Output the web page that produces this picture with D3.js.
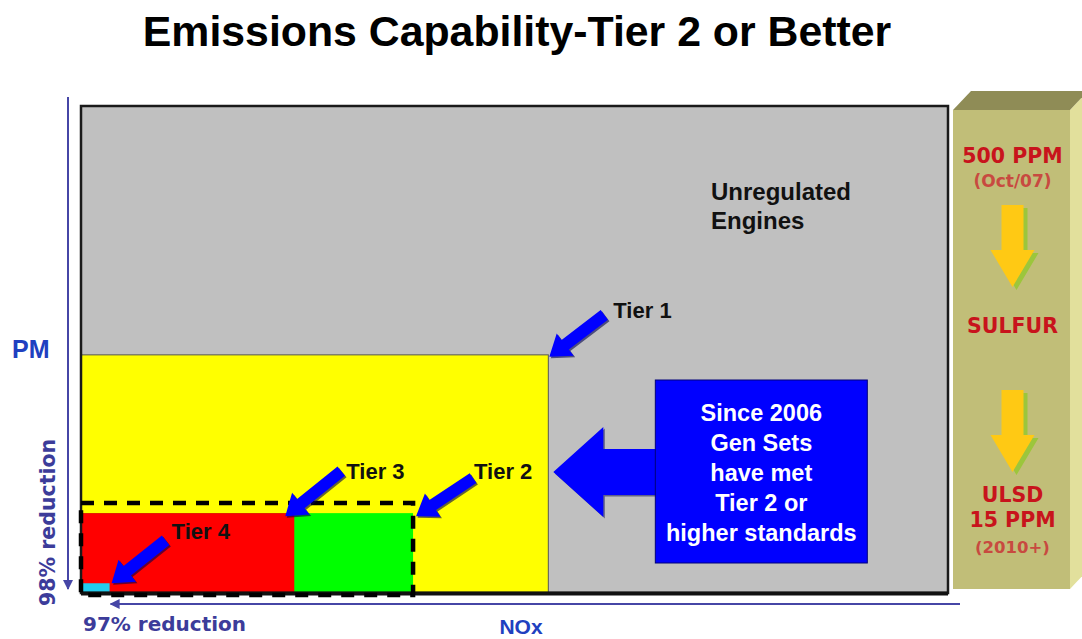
<!DOCTYPE html>
<html>
<head>
<meta charset="utf-8">
<script src="https://cdn.jsdelivr.net/npm/d3@7/dist/d3.min.js"></script>
<style>
  html, body { margin: 0; padding: 0; background: #ffffff; }
  svg { display: block; }
</style>
</head>
<body>
<svg id="chart" width="1082" height="639"></svg>
<script>
// ---------------- DATA ----------------
const chartTitle = "Emissions Capability-Tier 2 or Better";
// Emission limits as % of an unregulated engine (NOx on x, PM on y)
const tierNames = ["Unregulated Engines", "Tier 1", "Tier 2", "Tier 3", "Tier 4"];
const tierNox   = [100, 53.9, 38.3, 24.6, 3.3];
const tierPm    = [100, 48.9, 16.4, 16.4, 2.0];
// dashed envelope for "Tier 2 or better"
const envelopeNox = 38.3;
const envelopePm  = 18.5;
const axisLabels = { x: "NOx", y: "PM", xReduction: "97% reduction", yReduction: "98% reduction" };
const calloutLines = ["Since 2006", "Gen Sets", "have met", "Tier 2 or", "higher standards"];
const fuelTop    = ["500 PPM", "(Oct/07)"];
const fuelMiddle = ["SULFUR"];
const fuelBottom = ["ULSD", "15 PPM", "(2010+)"];

// ---------------- STYLE ----------------
const tierColors = {
  "Unregulated Engines": "#c0c0c0",
  "Tier 1": "#ffff00",
  "Tier 2": "#00ff00",
  "Tier 3": "#ff0000",
  "Tier 4": "#22ccee"
};
const arrowBlue = "#0000ff";
const axisBlue = "#4646a6";
const labelBlue = "#2040c0";
const fuelRed = "#c8141c";
const fuelRedLight = "#c84a40";

const svg = d3.select("#chart");

// scales
const x = d3.scaleLinear().domain([0, 100]).range([81, 948]);
const y = d3.scaleLinear().domain([0, 100]).range([593, 106]);

// ---------- title ----------
svg.append("text")
  .attr("x", 517).attr("y", 46)
  .attr("text-anchor", "middle")
  .attr("font-family", "Liberation Sans, Arial, sans-serif")
  .attr("font-weight", "bold")
  .attr("font-size", 42.8)
  .attr("fill", "#000")
  .text(chartTitle);

// ---------- tier regions ----------
const tiers = tierNames.map((n, i) => ({ name: n, nox: tierNox[i], pm: tierPm[i] }));

svg.append("g").selectAll("rect")
  .data(tiers)
  .join("rect")
  .attr("x", x(0))
  .attr("y", d => y(d.pm))
  .attr("width", d => x(d.nox) - x(0))
  .attr("height", d => y(0) - y(d.pm))
  .attr("fill", d => tierColors[d.name])
  .attr("stroke", d => d.name === "Tier 1" ? "#555" : "none")
  .attr("stroke-width", 1);

// frame border
svg.append("rect")
  .attr("x", x(0)).attr("y", y(100))
  .attr("width", x(100) - x(0)).attr("height", y(0) - y(100))
  .attr("fill", "none").attr("stroke", "#1a1a1a").attr("stroke-width", 2.5);
svg.append("line")
  .attr("x1", x(0)).attr("x2", x(100))
  .attr("y1", y(0) + 0.5).attr("y2", y(0) + 0.5)
  .attr("stroke", "#111").attr("stroke-width", 4);

// dashed Tier 2 envelope
svg.append("rect")
  .attr("x", x(0)).attr("y", y(envelopePm))
  .attr("width", x(envelopeNox) - x(0))
  .attr("height", y(0) + 2 - y(envelopePm))
  .attr("fill", "none")
  .attr("stroke", "#000")
  .attr("stroke-width", 4.5)
  .attr("stroke-dasharray", "13,10");

// ---------- block arrow helper ----------
function blockArrow(tip, tail, shaftW, headW, headL) {
  const dx = tail[0] - tip[0], dy = tail[1] - tip[1];
  const L = Math.hypot(dx, dy);
  const ux = dx / L, uy = dy / L, px = -uy, py = ux;
  const bx = tip[0] + ux * headL, by = tip[1] + uy * headL;
  const pts = [
    [tip[0], tip[1]],
    [bx + px * headW / 2, by + py * headW / 2],
    [bx + px * shaftW / 2, by + py * shaftW / 2],
    [tail[0] + px * shaftW / 2, tail[1] + py * shaftW / 2],
    [tail[0] - px * shaftW / 2, tail[1] - py * shaftW / 2],
    [bx - px * shaftW / 2, by - py * shaftW / 2],
    [bx - px * headW / 2, by - py * headW / 2]
  ];
  return "M" + pts.map(p => p.join(",")).join("L") + "Z";
}

// ---------- tier callout arrows ----------
const tierIdx = n => tierNames.indexOf(n);
const callouts = [
  { name: "Tier 1", tipOff: [1, 2],  tailOff: [56, -40], labelOff: [65, -37] },
  { name: "Tier 2", tipOff: [3, 3],  tailOff: [60, -35], labelOff: [61, -34] },
  { name: "Tier 3", tipOff: [-9, 3], tailOff: [47, -42], labelOff: [52, -34] },
  { name: "Tier 4", tipOff: [2, 0],  tailOff: [56, -43], labelOff: [62, -44] }
];
const ga = svg.append("g");
callouts.forEach(c => {
  const i = tierIdx(c.name);
  const cx = x(tierNox[i]), cy = y(tierPm[i]);
  const tip = [cx + c.tipOff[0], cy + c.tipOff[1]];
  const tail = [cx + c.tailOff[0], cy + c.tailOff[1]];
  ga.append("path")
    .attr("d", blockArrow([tip[0] + 1.5, tip[1] + 1.5], [tail[0] + 1.5, tail[1] + 1.5], 12, 28, 20))
    .attr("fill", "#000050").attr("opacity", 0.6);
  ga.append("path")
    .attr("d", blockArrow(tip, tail, 12, 28, 20))
    .attr("fill", arrowBlue);
  ga.append("text")
    .attr("x", cx + c.labelOff[0]).attr("y", cy + c.labelOff[1])
    .attr("font-family", "Liberation Sans, Arial, sans-serif")
    .attr("font-weight", "bold").attr("font-size", 22)
    .attr("fill", "#111")
    .text(c.name);
});

// Unregulated label
svg.append("text")
  .attr("font-family", "Liberation Sans, Arial, sans-serif")
  .attr("font-weight", "bold").attr("font-size", 24)
  .attr("fill", "#111")
  .selectAll("tspan")
  .data(["Unregulated", "Engines"])
  .join("tspan")
  .attr("x", 711)
  .attr("y", (d, i) => 200 + i * 29)
  .text(d => d);

// ---------- big callout (arrow + box) ----------
const t1x = x(tierNox[tierIdx("Tier 1")]);
const bigTipX = t1x + 5, bigMidY = 472;
const boxL = t1x + 107, boxR = boxL + 212, boxT = 380, boxB = 563;
const bigArrow = [
  [bigTipX, bigMidY],
  [bigTipX + 50, bigMidY - 45],
  [bigTipX + 50, bigMidY - 23],
  [boxL + 2, bigMidY - 23],
  [boxL + 2, bigMidY + 23],
  [bigTipX + 50, bigMidY + 23],
  [bigTipX + 50, bigMidY + 45]
];
svg.append("path")
  .attr("d", d3.line()(bigArrow.map(p => [p[0] + 1.5, p[1] + 1.5])) + "Z")
  .attr("fill", "#000050").attr("opacity", 0.5);
svg.append("path")
  .attr("d", d3.line()(bigArrow) + "Z")
  .attr("fill", arrowBlue);
svg.append("rect")
  .attr("x", boxL).attr("y", boxT)
  .attr("width", boxR - boxL).attr("height", boxB - boxT)
  .attr("fill", arrowBlue)
  .attr("stroke", "#00007a").attr("stroke-width", 1);
svg.append("text")
  .attr("text-anchor", "middle")
  .attr("font-family", "Liberation Sans, Arial, sans-serif")
  .attr("font-weight", "bold").attr("font-size", 23.5)
  .attr("fill", "#ffffff")
  .selectAll("tspan")
  .data(calloutLines)
  .join("tspan")
  .attr("x", (boxL + boxR) / 2)
  .attr("y", (d, i) => 421 + i * 30)
  .text(d => d);

// ---------- axes arrows ----------
const defs = svg.append("defs");
defs.append("marker")
  .attr("id", "ah").attr("viewBox", "0 0 10 10")
  .attr("refX", 9).attr("refY", 5)
  .attr("markerWidth", 5).attr("markerHeight", 5)
  .attr("orient", "auto-start-reverse")
  .append("path").attr("d", "M0,0L10,5L0,10Z").attr("fill", axisBlue);

svg.append("line")
  .attr("x1", 68).attr("x2", 68)
  .attr("y1", y(100) - 9).attr("y2", y(0) - 4)
  .attr("stroke", axisBlue).attr("stroke-width", 2)
  .attr("marker-end", "url(#ah)");
svg.append("line")
  .attr("x1", 960).attr("x2", x(tierNox[tierIdx("Tier 4")]) + 1)
  .attr("y1", 604).attr("y2", 604)
  .attr("stroke", axisBlue).attr("stroke-width", 2)
  .attr("marker-end", "url(#ah)");

svg.append("text")
  .attr("x", 12).attr("y", 358)
  .attr("font-family", "Liberation Sans, Arial, sans-serif")
  .attr("font-weight", "bold").attr("font-size", 25)
  .attr("fill", labelBlue).text(axisLabels.y);
svg.append("text")
  .attr("transform", "translate(55,606) rotate(-90)")
  .attr("font-family", "DejaVu Sans, Verdana, sans-serif")
  .attr("font-weight", "bold").attr("font-size", 20.5)
  .attr("fill", "#3c3c9a").text(axisLabels.yReduction);
svg.append("text")
  .attr("x", 83).attr("y", 631)
  .attr("font-family", "DejaVu Sans, Verdana, sans-serif")
  .attr("font-weight", "bold").attr("font-size", 20)
  .attr("fill", "#3c3c9a").text(axisLabels.xReduction);
svg.append("text")
  .attr("x", 521).attr("y", 634)
  .attr("text-anchor", "middle")
  .attr("font-family", "Liberation Sans, Arial, sans-serif")
  .attr("font-weight", "bold").attr("font-size", 21)
  .attr("fill", labelBlue).text(axisLabels.x);

// ---------- sulfur panel (3D box) ----------
const pL = 953, pR = 1070, pT = 110, pB = 589, depthX = 18, depthY = 19;
svg.append("path")
  .attr("d", `M${pR},${pT}L${pR + depthX},${pT - depthY}L${pR + depthX},${pB - depthY}L${pR},${pB}Z`)
  .attr("fill", "#e2e09c");
svg.append("path")
  .attr("d", `M${pL},${pT}L${pL + depthX},${pT - depthY}L${pR + depthX},${pT - depthY}L${pR},${pT}Z`)
  .attr("fill", "#8f8c56");
svg.append("rect")
  .attr("x", pL).attr("y", pT).attr("width", pR - pL).attr("height", pB - pT)
  .attr("fill", "#c1be78");

const pcx = (pL + pR) / 2 + 1;
function fuelText(lines, y0, specs) {
  lines.forEach((t, i) => {
    svg.append("text")
      .attr("x", pcx).attr("y", y0 + specs[i].dy)
      .attr("text-anchor", "middle")
      .attr("font-family", "DejaVu Sans, Verdana, sans-serif")
      .attr("font-weight", specs[i].w)
      .attr("font-size", specs[i].s)
      .attr("fill", specs[i].c)
      .text(t);
  });
}
fuelText(fuelTop, 163, [{ dy: 0, s: 20.5, w: "bold", c: fuelRed }, { dy: 24, s: 17, w: "bold", c: fuelRedLight }]);
fuelText(fuelMiddle, 333, [{ dy: 0, s: 20.5, w: "bold", c: fuelRed }]);
fuelText(fuelBottom, 502, [
  { dy: 0, s: 20.5, w: "bold", c: fuelRed },
  { dy: 25, s: 20.5, w: "bold", c: fuelRed },
  { dy: 51, s: 16.5, w: "bold", c: fuelRedLight }]);

function downArrow(top, tip) {
  const cx0 = pcx;
  const headStart = tip - 37;
  const pts = [
    [cx0 - 11, top], [cx0 + 11, top], [cx0 + 11, headStart], [cx0 + 22, headStart],
    [cx0, tip], [cx0 - 22, headStart], [cx0 - 11, headStart]
  ];
  svg.append("path").attr("d", d3.line()(pts.map(p => [p[0] + 4, p[1] + 3])) + "Z").attr("fill", "#9cc63c");
  svg.append("path").attr("d", d3.line()(pts) + "Z").attr("fill", "#ffc914");
}
downArrow(205, 287);
downArrow(390, 472);
</script>
</body>
</html>
